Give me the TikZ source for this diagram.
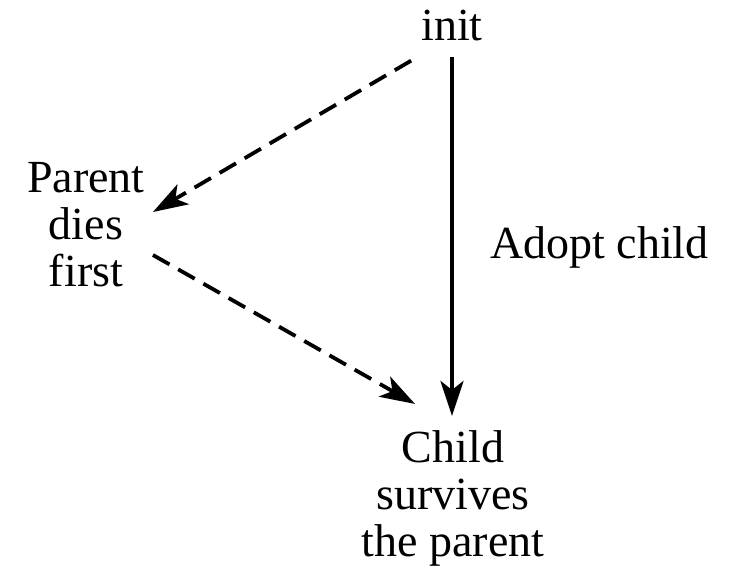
\documentclass[tikz,border=0pt]{standalone}
\usepackage{fontspec}
\setmainfont{Liberation Serif}
\usetikzlibrary{arrows.meta}

\begin{document}
\begin{tikzpicture}[
  x=1pt, y=-1pt,
  font=\fontsize{46}{47}\selectfont,
  state/.style={align=center, inner sep=3pt},
  arr/.style={-{Stealth[length=35pt, width=23pt, inset=9pt]}, line width=3.8pt, black},
  darr/.style={arr, dash pattern=on 19pt off 10pt},
]
\useasboundingbox (0,0) rectangle (729,568);

% ---------------- states ----------------
\node[state, anchor=base] (init) at (452,40) {init};
\node[state] (parent) at (86,225) {Parent\\dies\\first};
\node[state] (child) at (453,498) {Child\\survives\\the parent};
\node[anchor=base west, inner sep=0pt] (adopt) at (490,258) {Adopt child};

% ---------------- transitions ----------------
\draw[arr, shorten <=13pt, shorten >=11pt] (init.south) -- (init.south |- child.north);
\draw[darr] ([shift={(-7,17)}]init.south west) -- ([shift={(5,-13)}]parent.east);
\draw[darr] ([shift={(5,30)}]parent.east) -- ([shift={(-38,-23)}]child.north);

\end{tikzpicture}
\end{document}
